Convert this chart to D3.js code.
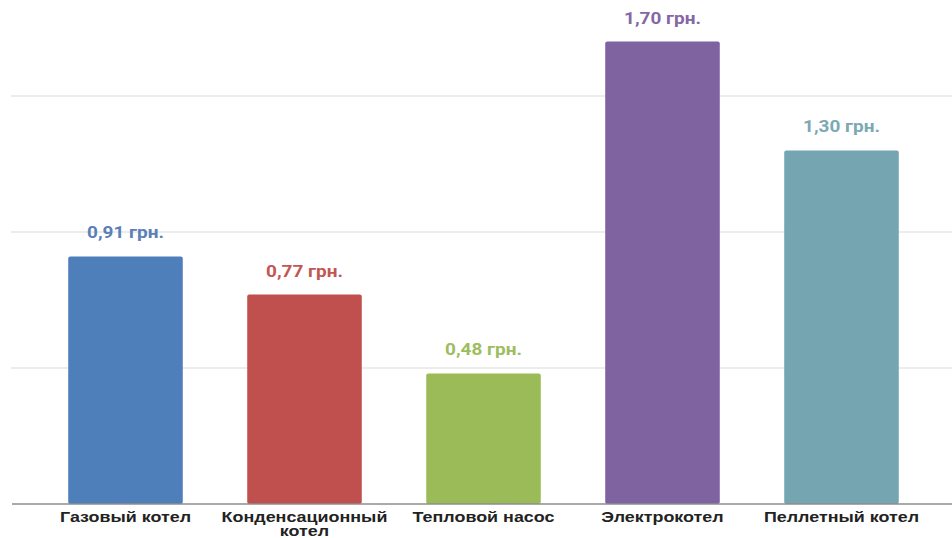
<!DOCTYPE html>
<html><head><meta charset="utf-8">
<script src="https://cdn.jsdelivr.net/npm/d3@7"></script>
<style>body{margin:0;background:#fff}svg{display:block}</style>
</head><body>
<svg id="c" width="952" height="538"></svg>
<script>
const categories = ["Газовый котел", "Конденсационный котел", "Тепловой насос", "Электрокотел", "Пеллетный котел"];
const values = [0.91, 0.77, 0.48, 1.70, 1.30];
const valueLabels = ["0,91 грн.", "0,77 грн.", "0,48 грн.", "1,70 грн.", "1,30 грн."];
const barColors = ["#4E7FBB", "#C0504D", "#9BBB59", "#7F63A1", "#74A5B0"];
const labelColors = ["#5A80B6", "#C35654", "#9DBD5E", "#8467A5", "#7BA8B4"];
const gridTicks = [0.5, 1.0, 1.5];

const svg = d3.select("#c");
const x = d3.scaleBand().domain(categories).range([36, 931]).paddingInner(0.36).paddingOuter(0.18);
const y = d3.scaleLinear().domain([0, 1.5]).range([504, 96]);

svg.append("g").selectAll("line").data(gridTicks).join("line")
  .attr("x1", 11).attr("x2", 952)
  .attr("y1", d => y(d)).attr("y2", d => y(d))
  .attr("stroke", "#d9d9d9").attr("stroke-width", 1.2);

svg.append("g").selectAll("rect").data(values).join("rect")
  .attr("x", (d, i) => x(categories[i]))
  .attr("width", x.bandwidth())
  .attr("y", d => y(d))
  .attr("height", d => y(0) - y(d))
  .attr("rx", 2)
  .attr("fill", (d, i) => barColors[i]);

svg.append("line").attr("x1", 12).attr("x2", 952).attr("y1", y(0)).attr("y2", y(0))
  .attr("stroke", "#8c8c8c").attr("stroke-width", 1.5);

svg.append("g").selectAll("text").data(values).join("text")
  .attr("transform", (d, i) => `translate(${x(categories[i]) + x.bandwidth() / 2},${y(d) - 18}) scale(1.15,1)`)
  .attr("text-anchor", "middle")
  .attr("font-family", "Roboto, sans-serif")
  .attr("font-weight", "bold")
  .attr("font-size", 16.5)
  .attr("fill", (d, i) => labelColors[i])
  .text((d, i) => valueLabels[i]);

const xAxis = svg.append("g");
categories.forEach((c, i) => {
  const words = c === "Конденсационный котел" ? ["Конденсационный", "котел"] : [c];
  const t = xAxis.append("text")
    .attr("transform", `translate(${x(c) + x.bandwidth() / 2},522) scale(1.28,1)`)
    .attr("text-anchor", "middle")
    .attr("font-family", "Liberation Sans, Arial, sans-serif")
    .attr("font-weight", "bold")
    .attr("font-size", 14)
    .attr("fill", "#222");
  words.forEach((w, j) => t.append("tspan").attr("x", 0).attr("dy", j ? 14.5 : 0).text(w));
});
</script>
</body></html>
